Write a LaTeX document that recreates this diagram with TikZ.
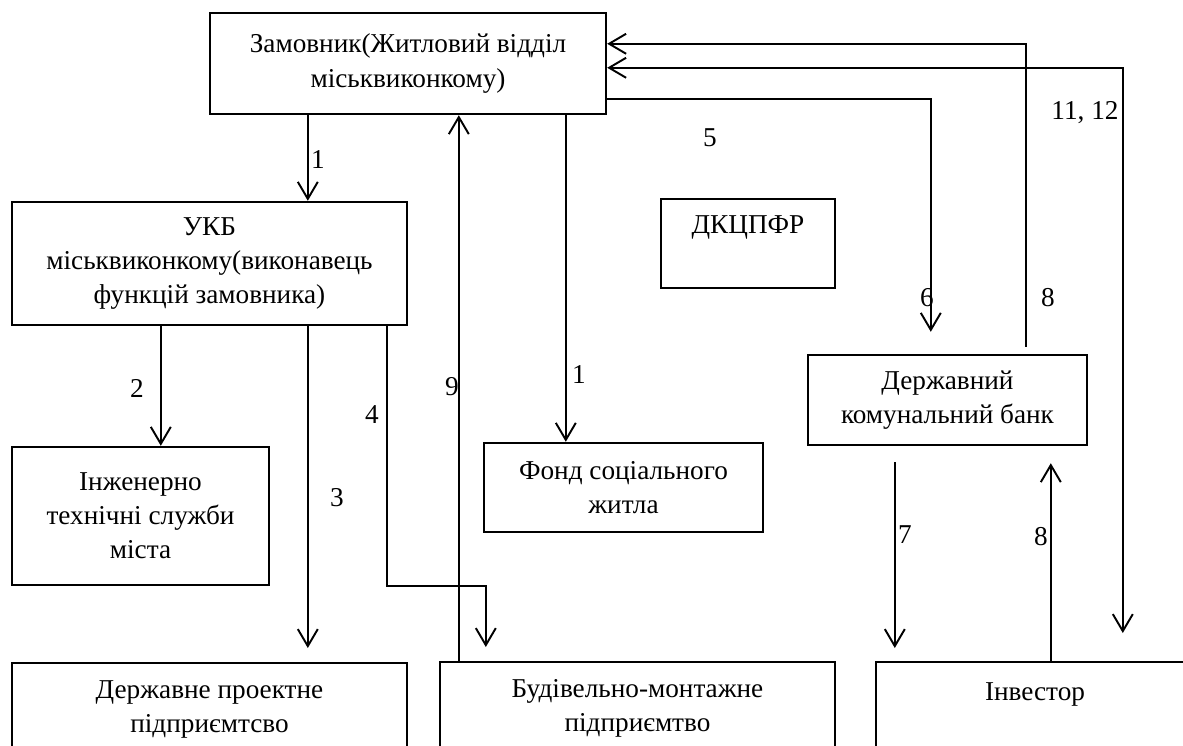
\documentclass[tikz,border=0pt]{standalone}
\usepackage{fontspec}
\setmainfont{Liberation Serif}
\usetikzlibrary{positioning,calc,arrows.meta}

\tikzset{
	box/.style={draw,line width=1.4pt,align=center,inner sep=2pt,font=\fontsize{15.5}{19.4}\selectfont},
	conn/.style={line width=1.1pt},
	arr/.style={conn,-{Straight Barb[length=0.34cm,width=0.4cm]}},
	dblarr/.style={conn,{Straight Barb[length=0.34cm,width=0.4cm]}-{Straight Barb[length=0.34cm,width=0.4cm]}},
	num/.style={inner sep=1pt,font=\fontsize{15.5}{19.4}\selectfont}
}

\begin{document}
\begin{tikzpicture}[x=0.02cm,y=-0.02cm]
	\useasboundingbox (0,0) rectangle (1183,746);
	\clip (0,0) rectangle (1183,746);
	\fill[white] (0,0) rectangle (1183,746);

	% блоки
	\node[box,minimum width=7.92cm,minimum height=2.02cm] (zam) at (408,63.5) {Замовник(Житловий відділ\\міськвиконкому)};
	\node[box,minimum width=7.9cm,minimum height=2.46cm] (ukb) at (209.5,263.5) {УКБ\\міськвиконкому(виконавець\\функцій замовника)};
	\node[box,minimum width=5.14cm,minimum height=2.76cm] (inzh) at (140.5,516) {Інженерно\\технічні служби\\міста};
	\node[box,minimum width=3.48cm,minimum height=1.78cm,text depth=0.74cm] (dkc) at (748,243.5) {ДКЦПФР};
	\node[box,minimum width=5.58cm,minimum height=1.78cm] (fond) at (623.5,487.5) {Фонд соціального\\житла};
	\node[box,minimum width=5.58cm,minimum height=1.8cm] (bank) at (947.5,400) {Державний\\комунальний банк};
	\node[box,anchor=north,minimum width=7.9cm,minimum height=1.84cm] (derzh) at (209.5,662) {Державне проектне\\підприємтсво};
	\node[box,anchor=north,minimum width=7.9cm,minimum height=1.84cm] (budiv) at (637.5,661) {Будівельно-монтажне\\підприємтво};
	\node[box,anchor=north,minimum width=6.36cm,minimum height=2cm,text depth=0.84cm] (inv) at (1035,661) {Інвестор};

	% зв'язки
	\draw[arr] ($(zam.south west)+(99,0)$) coordinate (zu) -- (zu |- ukb.north);
	\draw[arr] ($(budiv.north west)+(20,0)$) coordinate (bz) -- (bz |- zam.south);
	\draw[arr] ($(zam.south west)+(357,0)$) coordinate (zf) -- (zf |- fond.north);
	\draw[arr] ($(ukb.south west)+(150,0)$) coordinate (ui) -- (ui |- inzh.north);
	\draw[arr] ($(ukb.south west)+(297,0)$) coordinate (ud) -- ($(ud |- derzh.north)+(0,-14)$);
	\draw[arr] ($(ukb.south west)+(376,0)$) coordinate (ub) -- (ub |- inzh.south) -| ($(budiv.north west)+(47,-14)$);
	\draw[arr] ($(zam.north east)+(0,87)$) -| ($(bank.north west)+(124,-22)$);
	\draw[arr] ($(bank.north west)+(219,-7)$) |- ($(zam.north east)+(0,32)$);
	\draw[dblarr] ($(zam.north east)+(0,56)$) -| ($(inv.north west)+(248,-28)$);
	\draw[arr] ($(bank.south west)+(88,16)$) coordinate (bi) -- ($(bi |- inv.north)+(0,-13)$);
	\draw[arr] ($(inv.north west)+(176,0)$) coordinate (ib) -- ($(ib |- bank.south)+(0,17)$);

	% номери
	\node[num] (n1a) at (318,160) {1};
	\node[num] (n1b) at (579,375) {1};
	\node[num] (n2) at (137,388) {2};
	\node[num] (n3) at (337,498) {3};
	\node[num] (n4) at (372,415) {4};
	\node[num] (n5) at (710,138) {5};
	\node[num] (n6) at (927,298) {6};
	\node[num] (n8a) at (1048,298) {8};
	\node[num] (n9) at (452,387) {9};
	\node[num] (n1112) at (1085,113) {11, 12};
	\node[num] (n7) at (905,535) {7};
	\node[num] (n8b) at (1041,537) {8};
\end{tikzpicture}
\end{document}
